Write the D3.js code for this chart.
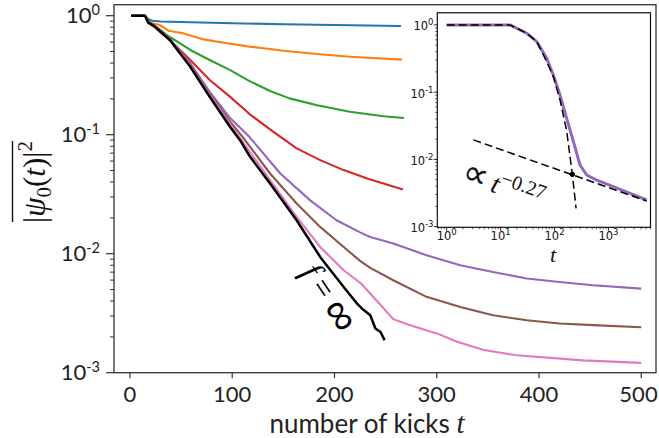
<!DOCTYPE html>
<html><head><meta charset="utf-8">
<script src="https://cdn.jsdelivr.net/npm/d3@7"></script>
<style>body{margin:0;background:#fff} svg{display:block}</style>
</head><body>
<svg id="c" width="659" height="438"></svg>
<script>
// ---------- data ----------
const xTicks = [0, 100, 200, 300, 400, 500];
const yTickExps = [0, -1, -2, -3];
const insetXTickExps = [0, 1, 2, 3];
const insetYTickExps = [0, -1, -2, -3];

const tBlue = [1, 14.7, 18, 22, 30, 60, 100, 150, 200, 265];
const vBlue = [1, 1, 0.933, 0.908, 0.895, 0.881, 0.865, 0.847, 0.834, 0.818];

const tOrange = [1, 14.7, 18, 20, 29, 37.5, 52, 72, 95, 117, 137, 150, 183, 215, 266];
const vOrange = [1, 1, 0.912, 0.873, 0.836, 0.748, 0.711, 0.632, 0.586, 0.550, 0.525, 0.508, 0.476, 0.452, 0.427];

const tGreen = [1, 14.7, 18, 22, 29, 37.5, 49, 59, 78, 98, 117, 137, 156, 183, 215, 248, 268];
const vGreen = [1, 1, 0.902, 0.851, 0.767, 0.675, 0.586, 0.515, 0.424, 0.349, 0.282, 0.233, 0.202, 0.177, 0.156, 0.143, 0.138];

const tRed = [1, 14.7, 18, 22, 29, 39, 49, 59, 78, 98, 117, 140, 163, 186, 209, 232, 267];
const vRed = [1, 1, 0.891, 0.832, 0.735, 0.625, 0.515, 0.424, 0.288, 0.208, 0.149, 0.106, 0.0767, 0.0611, 0.0504, 0.0429, 0.0347];

const tPurple = [1, 14.7, 18, 24.4, 39, 59, 78, 98, 117, 147, 176, 202, 225, 235, 257.5, 290, 323, 355, 388, 420, 453, 500];
const vPurple = [1, 1, 0.873, 0.813, 0.638, 0.398, 0.229, 0.138, 0.0955, 0.0472, 0.0282, 0.0191, 0.0151, 0.0138, 0.0122, 0.0097, 0.008, 0.00703, 0.00618, 0.00579, 0.00543, 0.00509];

const tBrown = [1, 14.7, 18, 24.4, 39, 59, 78, 98, 112.5, 137, 163, 186, 209, 225, 235, 257.5, 290, 323, 355, 388, 420, 453, 500];
const vBrown = [1, 1, 0.873, 0.813, 0.634, 0.389, 0.219, 0.129, 0.0902, 0.0472, 0.0264, 0.0168, 0.0114, 0.0087, 0.00759, 0.00598, 0.00434, 0.00357, 0.00304, 0.00276, 0.00259, 0.00251, 0.00241];

const tPink = [1, 14.7, 18, 24.4, 39, 59, 78, 98, 109, 137, 163, 186, 209, 226, 244, 257.5, 274, 300, 320, 346, 378, 443, 500];
const vPink = [1, 1, 0.873, 0.813, 0.631, 0.380, 0.214, 0.123, 0.0902, 0.0415, 0.0204, 0.0114, 0.00726, 0.00562, 0.0038, 0.00282, 0.00251, 0.00214, 0.00182, 0.00155, 0.0014, 0.00127, 0.00121];

const tBlack = [1, 14.7, 18, 24.4, 39, 59, 78, 98, 108, 117, 137, 163, 186, 209, 222, 228, 235, 240, 245, 249];
const vBlack = [1, 1, 0.873, 0.809, 0.625, 0.372, 0.208, 0.116, 0.0891, 0.0661, 0.0389, 0.0191, 0.0094, 0.00525, 0.00381, 0.00339, 0.00304, 0.00235, 0.0022, 0.00188];

// inset
const insetT = [1, 14.9, 20, 30.5, 46.8, 71.6, 95, 126, 168, 224, 297, 395, 607, 1230, 2512, 5129];
const insetV = [1, 1, 0.891, 0.752, 0.565, 0.319, 0.180, 0.0912, 0.0408, 0.0184, 0.00826, 0.00586, 0.00493, 0.00393, 0.00313, 0.00249];
const decayT = [1, 14.9, 20, 30.5, 46.8, 71.6, 95, 126.5, 168, 214, 251];
const decayV = [1, 1, 0.891, 0.752, 0.565, 0.284, 0.170, 0.0766, 0.0265, 0.006, 0.00187];
const powerT = [3.12, 5130];
const powerV = [0.0195, 0.0024];
const crossT = [214];
const crossV = [0.006];

// ---------- styles ----------
const seriesColors = ["#1f77b4", "#ff7f0e", "#2ca02c", "#d62728", "#9467bd", "#8c564b", "#e377c2", "#000000"];
const seriesT = [tBlue, tOrange, tGreen, tRed, tPurple, tBrown, tPink, tBlack];
const seriesV = [vBlue, vOrange, vGreen, vRed, vPurple, vBrown, vPink, vBlack];

const svg = d3.select("#c");
const M = {l: 114, r: 656, t: 4.7, b: 372.7};
const x = d3.scaleLinear().domain([-15.6, 514.4]).range([M.l, M.r]);
const y = d3.scaleLog().domain([1.237, 1e-3]).range([M.t, M.b]);

const sans = "Lato, 'Open Sans', sans-serif";
const serif = "'Liberation Serif', 'DejaVu Serif', serif";
const mathSym = "'DejaVu Sans', sans-serif";

// lines
const line = d3.line().x(d => x(d[0])).y(d => y(d[1]));
seriesT.forEach((ts, i) => {
  const pts = ts.map((t, j) => [t, seriesV[i][j]]);
  svg.append("path").attr("d", line(pts)).attr("fill", "none")
    .attr("stroke", seriesColors[i]).attr("stroke-width", i === 7 ? 2.5 : 2.1)
    .attr("stroke-linejoin", "round").attr("stroke-linecap", "butt");
});

// frame
svg.append("rect").attr("x", M.l).attr("y", M.t).attr("width", M.r - M.l).attr("height", M.b - M.t)
  .attr("fill", "none").attr("stroke", "#333").attr("stroke-width", 1.3);

// x ticks
xTicks.forEach(t => {
  svg.append("line").attr("x1", x(t)).attr("x2", x(t)).attr("y1", M.b).attr("y2", M.b + 5.5)
    .attr("stroke", "#333").attr("stroke-width", 1.2);
  svg.append("text").attr("x", Math.min(x(t), 638.5)).attr("y", 401.5).attr("text-anchor", "middle")
    .attr("font-family", sans).attr("font-size", 22).attr("fill", "#222").text(t);
});
// y ticks
yTickExps.forEach(e => {
  const v = Math.pow(10, e);
  svg.append("line").attr("x1", M.l - 8).attr("x2", M.l).attr("y1", y(v)).attr("y2", y(v))
    .attr("stroke", "#333").attr("stroke-width", 1.2);
  const tx = svg.append("text").attr("x", 100).attr("y", y(v) + (e === 0 ? 7 : 7.5))
    .attr("text-anchor", "end").attr("font-family", sans).attr("font-size", 22).attr("fill", "#222");
  tx.append("tspan").text("10");
  tx.append("tspan").attr("dy", -8).attr("font-size", 14.5).text(e === 0 ? "0" : "-" + (-e));
});
for (let e = -3; e <= 0; e++) {
  for (let m = 2; m <= 9; m++) {
    const v = m * Math.pow(10, e);
    if (v > 1.237 || v < 1e-3) continue;
    svg.append("line").attr("x1", M.l - 4).attr("x2", M.l).attr("y1", y(v)).attr("y2", y(v))
      .attr("stroke", "#333").attr("stroke-width", 1);
  }
}
// x label
const xl = svg.append("text").attr("x", 367).attr("y", 432.5).attr("text-anchor", "middle")
  .attr("font-family", sans).attr("font-size", 26).attr("fill", "#222");
xl.append("tspan").text("number of kicks ");
xl.append("tspan").attr("font-family", serif).attr("font-style", "italic").attr("font-size", 29).text("t");

// y label
const yg = svg.append("g").attr("transform", "translate(45,182) rotate(-90)");
const yl = yg.append("text").attr("text-anchor", "middle").attr("font-family", serif).attr("font-size", 31).attr("fill", "#111");
yl.append("tspan").text("|");
yl.append("tspan").attr("font-style", "italic").text("ψ");
yl.append("tspan").attr("dy", 6).attr("font-size", 21).text("0");
yl.append("tspan").attr("dy", -6).text("(");
yl.append("tspan").attr("font-style", "italic").text("t");
yl.append("tspan").text(")|");
yl.append("tspan").attr("dy", -13).attr("font-size", 21).text("2");
const bb = yl.node().getBBox();
yg.append("line").attr("x1", bb.x + 1).attr("x2", bb.x + bb.width).attr("y1", -32.5).attr("y2", -32.5)
  .attr("stroke", "#111").attr("stroke-width", 1.4);

// f = infinity label
const fl = svg.append("text").attr("transform", "translate(327,299) rotate(56)")
  .attr("text-anchor", "middle").attr("dominant-baseline", "middle")
  .attr("font-family", serif).attr("font-size", 31).attr("fill", "#000");
fl.append("tspan").attr("font-style", "italic").attr("font-size", 33).text("f");
fl.append("tspan").text(" = ");
fl.append("tspan").attr("font-family", mathSym).attr("font-weight", 200).attr("font-size", 44).text("∞");

// ---------- inset ----------
const I = {l: 437.3, r: 650.5, t: 12.8, b: 227.3};
const xi = d3.scaleLog().domain([Math.pow(10, -0.174), Math.pow(10, 3.78)]).range([I.l, I.r]);
const yi = d3.scaleLog().domain([Math.pow(10, 0.18), Math.pow(10, -3.01)]).range([I.t, I.b]);
svg.append("rect").attr("x", I.l).attr("y", I.t).attr("width", I.r - I.l).attr("height", I.b - I.t)
  .attr("fill", "#fff").attr("stroke", "none");
const li = d3.line().x(d => xi(d[0])).y(d => yi(d[1]));
svg.append("path").attr("d", li(insetT.map((t, j) => [t, insetV[j]]))).attr("fill", "none")
  .attr("stroke", "#9467bd").attr("stroke-width", 3).attr("stroke-linejoin", "round");
svg.append("path").attr("d", li(decayT.map((t, j) => [t, decayV[j]]))).attr("fill", "none")
  .attr("stroke", "#000").attr("stroke-width", 1.5).attr("stroke-dasharray", "8,4");
svg.append("path").attr("d", li(powerT.map((t, j) => [t, powerV[j]]))).attr("fill", "none")
  .attr("stroke", "#000").attr("stroke-width", 1.5).attr("stroke-dasharray", "8,4");
svg.selectAll("circle.cross").data(crossT).enter().append("circle")
  .attr("cx", d => xi(d)).attr("cy", (d, j) => yi(crossV[j])).attr("r", 2.6).attr("fill", "#000");
svg.append("rect").attr("x", I.l).attr("y", I.t).attr("width", I.r - I.l).attr("height", I.b - I.t)
  .attr("fill", "none").attr("stroke", "#111").attr("stroke-width", 1.2);

const dj = "'DejaVu Sans', sans-serif";
insetXTickExps.forEach(e => {
  const v = Math.pow(10, e);
  svg.append("line").attr("x1", xi(v)).attr("x2", xi(v)).attr("y1", I.b).attr("y2", I.b + 3.5)
    .attr("stroke", "#111").attr("stroke-width", 0.9);
  const tx = svg.append("text").attr("x", xi(v)).attr("y", 240).attr("text-anchor", "middle")
    .attr("font-family", dj).attr("font-size", 11.5).attr("fill", "#111");
  tx.append("tspan").text("10");
  tx.append("tspan").attr("dy", -5).attr("font-size", 8.5).text(e);
});
insetYTickExps.forEach(e => {
  const v = Math.pow(10, e);
  svg.append("line").attr("x1", I.l - 3.5).attr("x2", I.l).attr("y1", yi(v)).attr("y2", yi(v))
    .attr("stroke", "#111").attr("stroke-width", 0.9);
  const tx = svg.append("text").attr("x", 433.5).attr("y", yi(v) + 5.5).attr("text-anchor", "end")
    .attr("font-family", dj).attr("font-size", 11.5).attr("fill", "#111");
  tx.append("tspan").text("10");
  tx.append("tspan").attr("dy", -5).attr("font-size", 8.5).text(e === 0 ? "0" : "-" + (-e));
});
for (let e = -1; e <= 3; e++) {
  for (let m = 2; m <= 9; m++) {
    const v = m * Math.pow(10, e);
    if (v < xi.domain()[0] || v > xi.domain()[1]) continue;
    svg.append("line").attr("x1", xi(v)).attr("x2", xi(v)).attr("y1", I.b).attr("y2", I.b + 2)
      .attr("stroke", "#111").attr("stroke-width", 0.7);
  }
}
for (let e = -4; e <= 0; e++) {
  for (let m = 2; m <= 9; m++) {
    const v = m * Math.pow(10, e);
    if (v > yi.domain()[0] || v < yi.domain()[1]) continue;
    svg.append("line").attr("x1", I.l - 2).attr("x2", I.l).attr("y1", yi(v)).attr("y2", yi(v))
      .attr("stroke", "#111").attr("stroke-width", 0.7);
  }
}
svg.append("text").attr("x", 553).attr("y", 262).attr("text-anchor", "middle")
  .attr("font-family", serif).attr("font-style", "italic").attr("font-size", 22).attr("fill", "#111").text("t");

const pl = svg.append("text").attr("transform", "translate(460,181) rotate(19)")
  .attr("font-family", serif).attr("font-size", 26).attr("fill", "#111");
pl.append("tspan").attr("font-family", mathSym).attr("font-weight", 200).attr("font-size", 36).text("∝");
pl.append("tspan").attr("font-style", "italic").attr("font-size", 27).attr("dx", 5).text("t");
pl.append("tspan").attr("dy", -10).attr("font-size", 20).text("−0.27");
</script>
</body></html>
